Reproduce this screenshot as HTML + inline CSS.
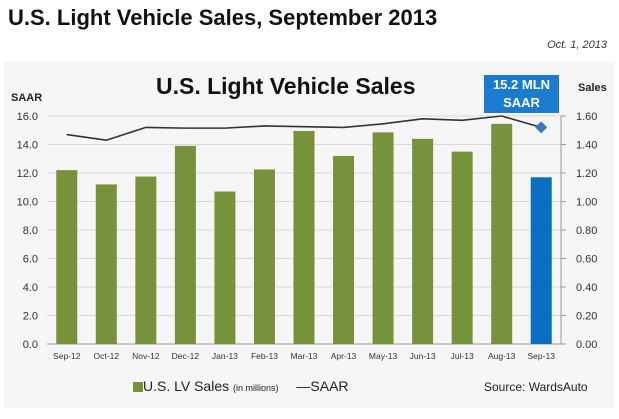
<!DOCTYPE html>
<html><head><style>
body{margin:0;width:619px;height:419px;background:#fff;overflow:hidden;font-family:"Liberation Sans",sans-serif}
</style></head><body>
<div style="position:absolute;left:8px;top:5px;font-size:22px;font-weight:bold;color:#111">U.S. Light Vehicle Sales, September 2013</div>
<div style="position:absolute;right:12px;top:39px;font-size:11px;font-style:italic;color:#333">Oct. 1, 2013</div>
<svg id="c" width="619" height="419" style="position:absolute;left:0;top:0">
<rect x="4" y="62" width="610" height="346" fill="#f6f6f6"/>
</svg>
<script>
const categories=["Sep-12","Oct-12","Nov-12","Dec-12","Jan-13","Feb-13","Mar-13","Apr-13","May-13","Jun-13","Jul-13","Aug-13","Sep-13"];
const sales=[1.22,1.12,1.175,1.39,1.07,1.225,1.495,1.32,1.485,1.44,1.35,1.545,1.17];
const saar=[14.7,14.3,15.2,15.15,15.15,15.3,15.25,15.2,15.45,15.8,15.7,16.0,15.2];
const leftTicks=["0.0","2.0","4.0","6.0","8.0","10.0","12.0","14.0","16.0"];
const rightTicks=["0.00","0.20","0.40","0.60","0.80","1.00","1.20","1.40","1.60"];
const NS="http://www.w3.org/2000/svg",svg=document.getElementById('c');
const L=47,R=561,Y0=344,Y16=116;
const yL=v=>Y0-(v/16)*(Y0-Y16), yR=v=>Y0-(v/1.6)*(Y0-Y16);
const step=(R-L)/categories.length, xc=i=>L+step*(i+0.5);
function el(t,a,txt){const e=document.createElementNS(NS,t);for(const k in a)e.setAttribute(k,a[k]);if(txt!=null)e.textContent=txt;svg.appendChild(e);return e;}
leftTicks.forEach((t,i)=>{const y=yL(+t);
 const g=el('line',{x1:L,x2:R,y1:y,y2:y,stroke:'#d8d8d8','stroke-width':1});
 
 
 const a=el('text',{x:38,y:y+4,'font-size':11,'text-anchor':'end',fill:'#333'},t);
 
 
});
rightTicks.forEach(t=>{const y=yR(+t);
 el('line',{x1:R,x2:R+5,y1:y,y2:y,stroke:'#999'});
 const a=el('text',{x:R+15,y:y+4,'font-size':11,fill:'#333'},t);
 
 
});
el('line',{x1:R,x2:R,y1:Y16,y2:Y0,stroke:'#999'});
el('line',{x1:L,x2:R,y1:Y0,y2:Y0,stroke:'#999'});
categories.forEach((c,i)=>{
 const y=yR(sales[i]);
 const b=el('rect',{x:xc(i)-10.5,y:y,width:21,height:Y0-y,fill:i==12?'#0a6fc2':'#77923b'});
 
 
 const t=el('text',{x:xc(i),y:359,'font-size':8.5,'text-anchor':'middle',fill:'#333'},c);
 
 
});
const pts=saar.map((v,i)=>xc(i)+','+yL(v)).join(' ');
const ln=el('polyline',{points:pts,fill:'none',stroke:'#333','stroke-width':1.6});


const lx=xc(12),ly=yL(saar[12]);
const d=el('polygon',{points:`${lx},${ly-6} ${lx+6},${ly} ${lx},${ly+6} ${lx-6},${ly}`,fill:'#3b78c0'});


</script>
<div style="position:absolute;left:156px;top:73px;font-size:23px;font-weight:bold;color:#111">U.S. Light Vehicle Sales</div>
<div style="position:absolute;left:11px;top:92px;font-size:11px;font-weight:bold;color:#222">SAAR</div>
<div style="position:absolute;left:578px;top:82px;font-size:11px;font-weight:bold;color:#222">Sales</div>
<div style="position:absolute;left:484px;top:75px;width:75px;height:38px;background:#1b7bd1;color:#fff;font-weight:bold;font-size:13px;text-align:center;line-height:18px;padding-top:1px;box-sizing:border-box">15.2 MLN<br>SAAR</div>
<div style="position:absolute;left:133px;top:378px;font-size:14px;color:#222;white-space:nowrap">
<span style="display:inline-block;width:10px;height:10px;background:#77923b;vertical-align:-1px"></span>U.S. LV Sales <span style="font-size:9px">(in millions)</span>
<span style="margin-left:14px">—SAAR</span></div>
<div style="position:absolute;left:484px;top:380px;font-size:12px;color:#222">Source: WardsAuto</div>
</body></html>
